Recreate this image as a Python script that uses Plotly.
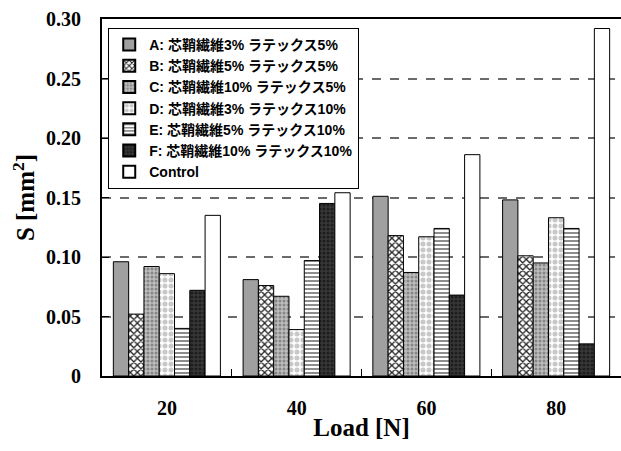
import plotly.graph_objects as go

# Load categories and the measured area S [mm^2] for each specimen type
loads = ["20", "40", "60", "80"]
series_names = [
    "A: 芯鞘繊維3% ラテックス5%",
    "B: 芯鞘繊維5% ラテックス5%",
    "C: 芯鞘繊維10% ラテックス5%",
    "D: 芯鞘繊維3% ラテックス10%",
    "E: 芯鞘繊維5% ラテックス10%",
    "F: 芯鞘繊維10% ラテックス10%",
    "Control",
]
s_a = [0.096, 0.081, 0.151, 0.148]
s_b = [0.052, 0.076, 0.118, 0.101]
s_c = [0.092, 0.067, 0.087, 0.095]
s_d = [0.086, 0.039, 0.117, 0.133]
s_e = [0.040, 0.097, 0.124, 0.124]
s_f = [0.072, 0.145, 0.068, 0.027]
s_control = [0.135, 0.154, 0.186, 0.292]
y_ticks = [0, 0.05, 0.10, 0.15, 0.20, 0.25, 0.30]
y_tick_text = ["0", "0.05", "0.10", "0.15", "0.20", "0.25", "0.30"]

series_values = [s_a, s_b, s_c, s_d, s_e, s_f, s_control]

# Fill style per series: (background, foreground, pattern shape, size, solidity)
fills = [
    ("#a0a0a0", "#a0a0a0", "", 4, 0.3),
    ("#ffffff", "#222222", "x", 5, 0.45),
    ("#bebebe", "#868686", ".", 4, 0.45),
    ("#ffffff", "#c8c8c8", ".", 6, 0.55),
    ("#ffffff", "#808080", "-", 4, 0.45),
    ("#383838", "#1e1e1e", ".", 4, 0.5),
    ("#ffffff", "#ffffff", "", 4, 0.3),
]

serif = "Liberation Serif, Times New Roman, serif"
legend_font = "Liberation Sans, Noto Sans CJK JP, sans-serif"

fig = go.Figure()
for name, vals, (bg, fg, shape, size, sol) in zip(series_names, series_values, fills):
    fig.add_trace(go.Bar(
        name=name,
        x=loads,
        y=vals,
        marker=dict(
            color=bg,
            line=dict(color="#000000", width=1),
            pattern=dict(shape=shape, fgcolor=fg, bgcolor=bg, size=size,
                         solidity=sol, fillmode="replace"),
        ),
    ))

fig.update_layout(
    width=621,
    height=451,
    margin=dict(l=102, r=0, t=19, b=75),
    paper_bgcolor="#ffffff",
    plot_bgcolor="#ffffff",
    barmode="group",
    bargap=0.175,
    bargroupgap=0,
    showlegend=True,
    legend=dict(
        x=0.012, y=0.975, xanchor="left", yanchor="top",
        bgcolor="#ffffff", bordercolor="#000000", borderwidth=1,
        font=dict(family=legend_font, size=14, color="#000000", weight="bold"),
        tracegroupgap=0, itemsizing="constant", itemwidth=30,
    ),
    xaxis=dict(
        type="category",
        showline=True, linecolor="#000000", linewidth=2, mirror=True,
        ticks="inside", tickson="boundaries", ticklen=7, tickcolor="#000000",
        tickfont=dict(family=serif, size=20, color="#000000", weight="bold"),
        ticklabelstandoff=13,
        title=dict(text="Load [N]", standoff=0,
                   font=dict(family=serif, size=25, color="#000000", weight="bold")),
        range=[-0.5, 3.5],
        showgrid=False,
    ),
    yaxis=dict(
        range=[0, 0.30],
        tickvals=y_ticks, ticktext=y_tick_text,
        showline=True, linecolor="#000000", linewidth=2, mirror=False,
        ticks="inside", ticklen=7, tickcolor="#000000",
        tickfont=dict(family=serif, size=20, color="#000000", weight="bold"),
        ticklabelstandoff=15,
        showgrid=True, gridcolor="#6a6a6a", gridwidth=1.5, griddash="dash",
        zeroline=False,
        title=dict(text="S [mm<sup>2</sup>]", standoff=4,
                   font=dict(family=serif, size=25, color="#000000", weight="bold")),
    ),
)

fig.write_html("out.html")
